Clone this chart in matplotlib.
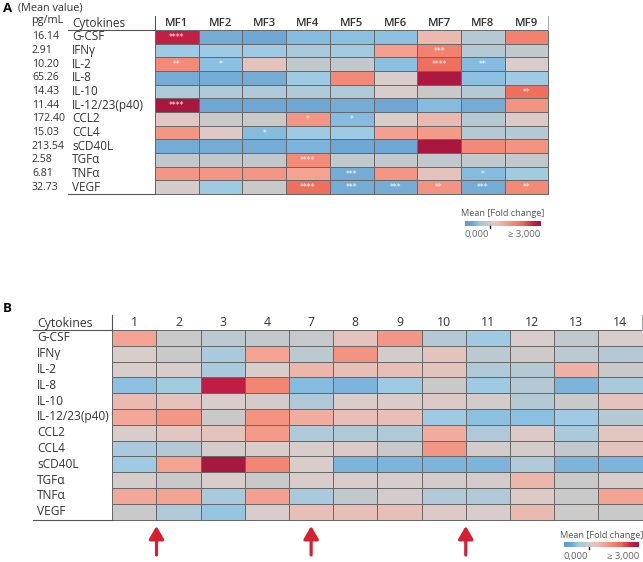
import matplotlib
matplotlib.use("Agg")
import matplotlib.pyplot as plt
import matplotlib.transforms as mtransforms
import numpy as np
from matplotlib.colors import LinearSegmentedColormap
from matplotlib.lines import Line2D

W, H = 643, 562

cytokines = ["G-CSF", "IFNγ", "IL-2", "IL-8", "IL-10", "IL-12/23(p40)",
             "CCL2", "CCL4", "sCD40L", "TGFα", "TNFα", "VEGF"]
mean_values = ["16.14", "2.91", "10.20", "65.26", "14.43", "11.44",
               "172.40", "15.03", "213.54", "2.58", "6.81", "32.73"]

# panel A: fold change per macrophage fraction
mf_labels = ["MF1", "MF2", "MF3", "MF4", "MF5", "MF6", "MF7", "MF8", "MF9"]
fold_a = [
    [2.70, 0.35, 0.30, 0.45, 0.50, 0.50, 1.35, 0.80, 2.00],
    [0.60, 0.60, 0.60, 0.70, 0.65, 1.65, 2.00, 0.80, 0.90],
    [1.90, 0.50, 1.25, 0.90, 0.90, 0.50, 2.20, 0.45, 1.10],
    [0.35, 0.35, 0.35, 0.60, 1.90, 1.10, 2.95, 0.50, 0.60],
    [0.75, 0.75, 0.75, 0.75, 0.75, 1.10, 0.95, 0.80, 2.20],
    [3.00, 0.30, 0.30, 0.30, 0.35, 0.30, 0.45, 0.35, 1.80],
    [1.20, 0.95, 0.95, 1.75, 0.45, 1.10, 1.35, 0.80, 1.15],
    [1.75, 1.15, 0.45, 0.60, 0.60, 1.65, 1.70, 0.80, 0.80],
    [0.35, 0.35, 0.35, 0.40, 0.30, 0.30, 3.00, 1.90, 1.80],
    [0.90, 0.90, 0.90, 1.90, 0.90, 0.90, 0.90, 0.90, 0.90],
    [1.75, 1.75, 1.75, 1.60, 0.35, 1.75, 1.25, 0.45, 0.65],
    [1.05, 0.60, 0.95, 2.20, 0.35, 0.35, 1.80, 0.35, 1.90],
]
stars_a = [
    ["****", "", "", "", "", "", "", "", ""],
    ["", "", "", "", "", "", "***", "", ""],
    ["**", "*", "", "", "", "", "****", "**", ""],
    ["", "", "", "", "", "", "", "", ""],
    ["", "", "", "", "", "", "", "", "**"],
    ["****", "", "", "", "", "", "", "", ""],
    ["", "", "", "*", "*", "", "", "", ""],
    ["", "", "*", "", "", "", "", "", ""],
    ["", "", "", "", "", "", "", "", ""],
    ["", "", "", "****", "", "", "", "", ""],
    ["", "", "", "", "***", "", "", "*", ""],
    ["", "", "", "****", "***", "***", "**", "***", "**"],
]

# panel B: fold change per patient
patients = ["1", "2", "3", "4", "7", "8", "9", "10", "11", "12", "13", "14"]
fold_b = [
    [1.60, 0.95, 0.85, 0.90, 0.92, 1.25, 1.75, 0.80, 0.60, 1.10, 0.90, 1.10],
    [1.10, 0.95, 0.70, 1.60, 0.85, 1.80, 1.05, 1.25, 0.85, 1.00, 0.85, 0.80],
    [1.10, 1.10, 0.70, 1.10, 1.40, 1.30, 1.30, 1.25, 0.75, 0.80, 1.45, 0.95],
    [0.50, 0.65, 2.75, 1.95, 0.45, 0.40, 0.60, 0.95, 0.60, 0.80, 0.40, 0.70],
    [1.35, 1.25, 1.10, 1.05, 0.75, 1.10, 1.10, 1.15, 1.05, 0.80, 0.95, 1.25],
    [1.55, 1.75, 0.95, 1.80, 1.50, 1.30, 1.30, 0.60, 0.50, 0.50, 0.60, 0.80],
    [1.10, 1.20, 1.25, 1.70, 0.75, 0.75, 0.75, 1.50, 0.75, 1.15, 0.70, 1.20],
    [0.70, 0.80, 1.05, 1.10, 1.10, 1.15, 0.95, 1.75, 1.05, 1.05, 0.90, 1.25],
    [0.60, 1.60, 3.00, 1.95, 1.10, 0.40, 0.40, 0.40, 0.40, 0.75, 0.40, 0.40],
    [1.05, 0.95, 1.10, 0.95, 1.10, 1.10, 1.10, 1.05, 1.05, 1.40, 0.95, 1.10],
    [1.55, 1.60, 0.70, 1.65, 0.70, 0.90, 1.05, 0.75, 0.75, 1.15, 0.95, 1.60],
    [0.95, 0.75, 0.55, 1.10, 1.30, 1.30, 1.30, 1.15, 1.10, 1.35, 1.00, 0.95],
]
# red arrows under the table, in column units
arrow_cols = [1.0, 4.5, 8.0]

cmap = LinearSegmentedColormap.from_list("fold", [
    (0.0 / 3, "#5b9ccd"), (0.3 / 3, "#6ea7d3"), (0.45 / 3, "#84bbdf"),
    (0.6 / 3, "#9ecbe3"), (0.8 / 3, "#b5c9d4"), (0.95 / 3, "#c9c9c9"),
    (1.1 / 3, "#d9cdcb"), (1.3 / 3, "#e8bfb6"), (1.6 / 3, "#f4a393"),
    (2.0 / 3, "#f2826f"), (2.3 / 3, "#ec6655"), (2.7 / 3, "#c41e44"),
    (1.0, "#a8173f"),
])

plt.rcParams["font.family"] = ["Open Sans", "DejaVu Sans"]
TXT = "#333333"


def px_axes(fig, x0, y0, x1, y1):
    return fig.add_axes([x0 / W, 1 - y1 / H, (x1 - x0) / W, (y1 - y0) / H])


def fy(y):
    return 1 - y / H


def fx(x):
    return x / W


def hline(fig, x0, x1, y, color="#555555", lw=0.8):
    fig.add_artist(Line2D([fx(x0), fx(x1)], [fy(y), fy(y)], color=color, lw=lw))


def vline(fig, x, y0, y1, color="#555555", lw=0.8):
    fig.add_artist(Line2D([fx(x), fx(x)], [fy(y0), fy(y1)], color=color, lw=lw))


def heatmap(ax, values):
    data = np.array(values)
    mesh = ax.pcolormesh(data, cmap=cmap, vmin=0, vmax=3,
                         edgecolors="#686868", linewidth=0.6)
    mesh.set_clip_on(False)
    ax.set_xlim(0, data.shape[1])
    ax.set_ylim(data.shape[0], 0)
    ax.set_axis_off()


def colorbar(fig, x0, y0, x1, y1):
    ax = px_axes(fig, x0, y0, x1, y1)
    ax.imshow(np.linspace(0, 3, 256)[None, :], cmap=cmap, aspect="auto",
              vmin=0, vmax=3, extent=(0, 3, 0, 1))
    ax.set_axis_off()
    ax.plot([1, 1], [-0.05, -0.3], color="black", lw=1.0, clip_on=False)
    xm = (x0 + x1) / 2
    fig.text(fx(xm), fy(y0 - 7), "Mean [Fold change]", fontsize=6.6,
             color="#555555", ha="center", va="center")
    fig.text(fx(x0), fy(y1 + 7), "0,000", fontsize=6.8, color="#666666",
             ha="left", va="center")
    fig.text(fx(x1), fy(y1 + 7), "≥ 3,000", fontsize=6.8, color="#666666",
             ha="right", va="center")


fig = plt.figure(figsize=(W / 100, H / 100), dpi=100)

# ---- panel A ----
ax_a = px_axes(fig, 155, 30, 548.3, 194)
heatmap(ax_a, fold_a)
tr_a = mtransforms.blended_transform_factory(fig.transFigure, ax_a.transData)
for i, (name, mv) in enumerate(zip(cytokines, mean_values)):
    ax_a.text(fx(72), i + 0.5, name, transform=tr_a, fontsize=8.5, color=TXT,
              ha="left", va="center")
    ax_a.text(fx(32), i + 0.5, mv, transform=tr_a, fontsize=7.6, color=TXT,
              ha="left", va="center")
    for j, s in enumerate(stars_a[i]):
        if s:
            ax_a.text(j + 0.5, i + 0.55, s, fontsize=5.5, color="white",
                      ha="center", va="center", family="DejaVu Sans")
tr_ah = mtransforms.blended_transform_factory(ax_a.transData, fig.transFigure)
for j, lab in enumerate(mf_labels):
    ax_a.text(j + 0.5, fy(23), lab, transform=tr_ah, fontsize=8.2,
              color=TXT, weight="semibold", ha="center", va="center")
fig.text(fx(72), fy(23), "Cytokines", fontsize=8.5, color=TXT, ha="left", va="center")
fig.text(fx(31), fy(20), "pg/mL", fontsize=7.8, color=TXT, ha="left", va="center")
fig.text(fx(18), fy(8), "(Mean value)", fontsize=7.8, color=TXT, ha="left", va="center")
fig.text(fx(3), fy(8), "A", fontsize=9.5, weight="bold", color="black",
         ha="left", va="center")
hline(fig, 68, 155, 30)
hline(fig, 68, 155, 194)
vline(fig, 155, 16, 30)
vline(fig, 548.3, 16, 30, color="#aaaaaa")
colorbar(fig, 465, 221, 540, 228)

# ---- panel B ----
ax_b = px_axes(fig, 112.3, 330, 642.5, 519.7)
heatmap(ax_b, fold_b)
tr_b = mtransforms.blended_transform_factory(fig.transFigure, ax_b.transData)
for i, name in enumerate(cytokines):
    ax_b.text(fx(37), i + 0.5, name, transform=tr_b, fontsize=8.6, color=TXT,
              ha="left", va="center")
tr_bh = mtransforms.blended_transform_factory(ax_b.transData, fig.transFigure)
for j, lab in enumerate(patients):
    ax_b.text(j + 0.5, fy(323), lab, transform=tr_bh, fontsize=8.8,
              color=TXT, ha="center", va="center")
fig.text(fx(37), fy(323), "Cytokines", fontsize=8.8, color=TXT, ha="left", va="center")
fig.text(fx(3), fy(308), "B", fontsize=9.5, weight="bold", color="black",
         ha="left", va="center")
hline(fig, 33, 112.3, 330)
hline(fig, 33, 112.3, 519.7)
vline(fig, 112.3, 315, 330)
vline(fig, 642, 315, 330, color="#aaaaaa")
for c in arrow_cols:
    ax_b.annotate("", xy=(c, fy(526)), xytext=(c, fy(555)),
                  xycoords=tr_bh, textcoords=tr_bh,
                  arrowprops=dict(arrowstyle="-|>,head_width=0.32,head_length=0.55",
                                  color="#d42030", lw=2.3, mutation_scale=14,
                                  shrinkA=0, shrinkB=0))
colorbar(fig, 564, 542, 639, 549)

fig.savefig("out.png", dpi=100)
